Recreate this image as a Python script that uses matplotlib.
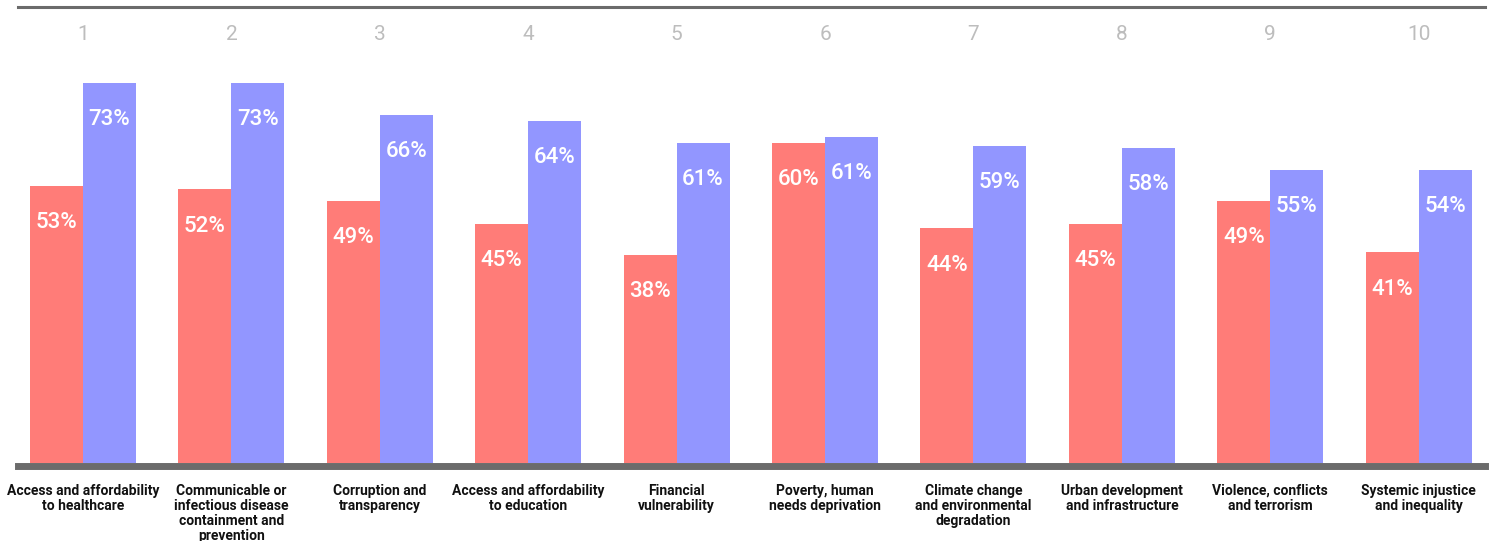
import matplotlib.pyplot as plt
import numpy as np

ranks = ["1", "2", "3", "4", "5", "6", "7", "8", "9", "10"]
categories = [
    "Access and affordability\nto healthcare",
    "Communicable or\ninfectious disease\ncontainment and\nprevention",
    "Corruption and\ntransparency",
    "Access and affordability\nto education",
    "Financial\nvulnerability",
    "Poverty, human\nneeds deprivation",
    "Climate change\nand environmental\ndegradation",
    "Urban development\nand infrastructure",
    "Violence, conflicts\nand terrorism",
    "Systemic injustice\nand inequality",
]
# bar heights as drawn in the picture (they do not follow the labels exactly)
red_heights = [53.2, 52.6, 50.3, 45.9, 40.0, 61.5, 45.1, 45.9, 50.3, 40.5]
blue_heights = [73.0, 73.0, 66.9, 65.7, 61.5, 62.6, 60.9, 60.5, 56.3, 56.3]
red_labels = ["53%", "52%", "49%", "45%", "38%", "60%", "44%", "45%", "49%", "41%"]
blue_labels = ["73%", "73%", "66%", "64%", "61%", "61%", "59%", "58%", "55%", "54%"]

RED = "#FF7C78"
BLUE = "#9296FF"
GRAY = "#6b6b6b"

plt.rcParams["font.family"] = ["Roboto", "DejaVu Sans"]

fig = plt.figure(figsize=(14.9, 5.41), dpi=100)
ax = fig.add_axes([18 / 1490, 1 - 463 / 541, (1485 - 18) / 1490, 456 / 541])

x = np.arange(len(categories))
w = 0.357
ax.bar(x - w / 2, red_heights, width=w, color=RED)
ax.bar(x + w / 2, blue_heights, width=w, color=BLUE)

ax.set_xlim(-0.438, 9.447)
ax.set_ylim(0, 456 / 5.205)

# value labels inside the bars
for xi, v, lab in zip(x - w / 2, red_heights, red_labels):
    ax.annotate(lab, (xi, v), xytext=(0, -26.5), textcoords="offset points",
                ha="center", va="center", color="white", fontsize=16, fontweight="medium")
for xi, v, lab in zip(x + w / 2, blue_heights, blue_labels):
    ax.annotate(lab, (xi, v), xytext=(0, -26.5), textcoords="offset points",
                ha="center", va="center", color="white", fontsize=16, fontweight="medium")

tr = ax.get_xaxis_transform()
for xi, r, c in zip(x, ranks, categories):
    ax.text(xi, 1 - 28 / 456, r, transform=tr, ha="center", va="center",
            color="#bdbdbd", fontsize=15)
    ax.text(xi, -21 / 456, c, transform=tr, ha="center", va="top",
            color="#111111", fontsize=10, fontweight="bold", linespacing=1.1)

ax.set_xticks([])
ax.set_yticks([])
for s in ["left", "right"]:
    ax.spines[s].set_visible(False)
ax.spines["bottom"].set_color(GRAY)
ax.spines["bottom"].set_linewidth(5)
ax.spines["bottom"].set_position(("outward", 2.5))
ax.spines["top"].set_color(GRAY)
ax.spines["top"].set_linewidth(2.2)

fig.savefig("out.png", dpi=100)
